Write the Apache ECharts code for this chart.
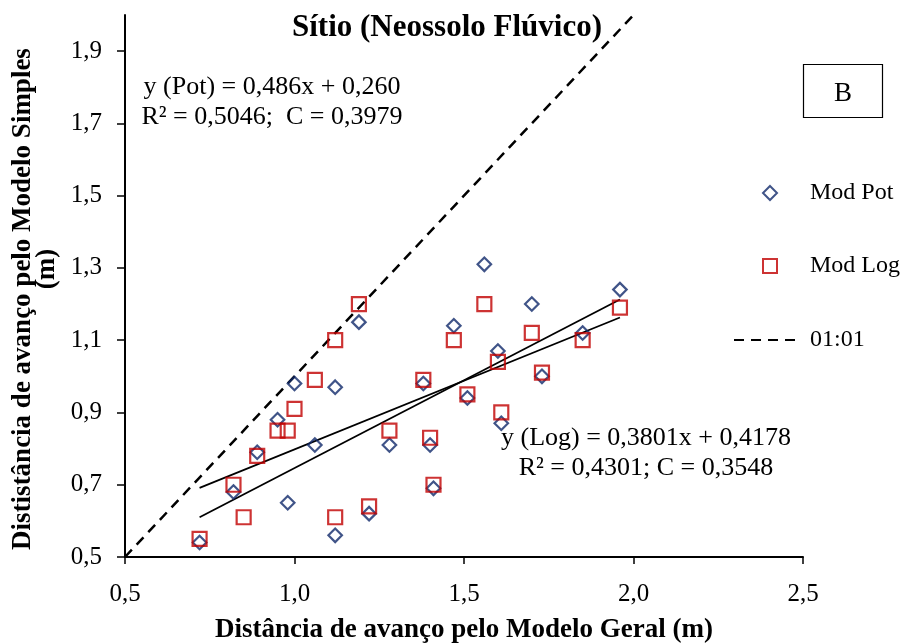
<!DOCTYPE html>
<html>
<head>
<meta charset="utf-8">
<script src="https://cdn.jsdelivr.net/npm/echarts@6/dist/echarts.min.js"></script>
<style>
  html, body { margin: 0; padding: 0; background: #fff; }
  #chart { width: 903px; height: 643px; }
</style>
</head>
<body>
<div id="chart"></div>
<script>
// Distância pelo Modelo Geral (eixo x) e pelos modelos simples (eixo y)
const xGeral = [0.72, 0.82, 0.85, 0.89, 0.95, 0.98, 1.00, 1.06, 1.12, 1.12, 1.19, 1.22, 1.28,
                1.38, 1.40, 1.41, 1.47, 1.51, 1.56, 1.60, 1.61, 1.70, 1.73, 1.85, 1.96];
const modPot = [0.54, 0.68, null, 0.79, 0.88, 0.65, 0.98, 0.81, 0.97, 0.56, 1.15, 0.62, 0.81,
                0.98, 0.81, 0.69, 1.14, 0.94, 1.31, 1.07, 0.87, 1.20, 1.00, 1.12, 1.24];
const modLog = [0.55, 0.70, 0.61, 0.78, 0.85, 0.85, 0.91, 0.99, 1.10, 0.61, 1.20, 0.64, 0.85,
                0.99, 0.83, 0.70, 1.10, 0.95, 1.20, 1.04, 0.90, 1.12, 1.01, 1.10, 1.19];

// Ajustes lineares (coeficientes das equações)
const ajustePot = { a: 0.486, b: 0.260 };
const ajusteLog = { a: 0.3801, b: 0.4178 };

// Eixos
const xTicks = [0.5, 1.0, 1.5, 2.0, 2.5];
const yTicks = [0.5, 0.7, 0.9, 1.1, 1.3, 1.5, 1.7, 1.9];
const yMax = 2.0;
const linha11 = [[0.5, 0.5], [2.5, 2.5]];

const FONT = '"Liberation Serif", "Times New Roman", serif';
const fmt = v => v.toFixed(1).replace('.', ',');

const pares = ys => xGeral.map((x, i) => ys[i] == null ? null : [x, ys[i]]).filter(p => p);
const xMin = Math.min(...xGeral), xMax = Math.max(...xGeral);
const reta = c => [[xMin, c.a * xMin + c.b], [xMax, c.a * xMax + c.b]];

const AZUL = '#10296a';
const VERMELHO = '#c00000';

const chart = echarts.init(document.getElementById('chart'), null, { renderer: 'canvas' });

const texto = (x, y, text, font, extra) => Object.assign({
  type: 'text', x: x, y: y,
  style: { text: text, font: font, fill: '#000', textAlign: 'center', textVerticalAlign: 'middle' }
}, extra || {});

chart.setOption({
  animation: false,
  backgroundColor: '#fff',
  grid: { left: 125, top: 15, right: 100, bottom: 86, containLabel: false, outerBoundsMode: 'none' },
  xAxis: {
    type: 'value',
    min: xTicks[0], max: xTicks[xTicks.length - 1], interval: 0.5,
    axisLine: { show: true, lineStyle: { color: '#000', width: 2 } },
    axisTick: { show: true, inside: false, length: 7, lineStyle: { color: '#000', width: 1.5 } },
    splitLine: { show: false },
    axisLabel: { formatter: fmt, color: '#000', fontFamily: FONT, fontSize: 25, margin: 25 },
    name: 'Distância de avanço pelo Modelo Geral (m)',
    nameLocation: 'middle', nameGap: 60,
    nameTextStyle: { color: '#000', fontFamily: FONT, fontSize: 27, fontWeight: 'bold' }
  },
  yAxis: {
    type: 'value',
    min: yTicks[0], max: yMax, interval: 0.2,
    axisLine: { show: true, lineStyle: { color: '#000', width: 2 } },
    axisTick: { show: true, inside: false, length: 8, lineStyle: { color: '#000', width: 1.5 } },
    splitLine: { show: false },
    axisLabel: {
      color: '#000', fontFamily: FONT, fontSize: 25, margin: 23,
      formatter: v => (Math.abs(v - yMax) < 1e-6 ? '' : fmt(v)),
      showMaxLabel: false
    }
  },
  legend: [
    {
      orient: 'vertical', left: 762, top: 181, padding: 0,
      itemWidth: 14, itemHeight: 14, itemGap: 49,
      data: [{ name: 'Mod Pot', icon: 'diamond' }, { name: 'Mod Log', icon: 'rect' }],
      textStyle: { color: '#000', fontFamily: FONT, fontSize: 24, padding: [0, 0, 0, 28] },
      selectedMode: false
    },
    {
      orient: 'vertical', left: 733, top: 328, padding: 0,
      itemWidth: 66, itemHeight: 13,
      data: ['01:01'],
      textStyle: { color: '#000', fontFamily: FONT, fontSize: 24, padding: [0, 0, 0, 5] },
      selectedMode: false
    }
  ],
  series: [
    {
      name: 'Mod Pot', type: 'scatter', symbol: 'diamond', symbolSize: 13.5,
      itemStyle: { color: 'rgba(0,0,0,0)', borderColor: AZUL, borderWidth: 2.2 },
      data: pares(modPot), z: 3
    },
    {
      name: 'Mod Log', type: 'scatter', symbol: 'rect', symbolSize: 14,
      itemStyle: { color: 'rgba(0,0,0,0)', borderColor: VERMELHO, borderWidth: 2.2 },
      data: pares(modLog), z: 4
    },
    {
      name: '01:01', type: 'line', data: linha11, symbol: 'none', clip: true,
      itemStyle: { color: 'rgba(0,0,0,0)' },
      lineStyle: { color: '#000', width: 2.5, type: [10, 7] }, z: 2
    },
    {
      name: 'Ajuste Pot', type: 'line', data: reta(ajustePot), symbol: 'none',
      lineStyle: { color: '#000', width: 1.8 }, z: 2
    },
    {
      name: 'Ajuste Log', type: 'line', data: reta(ajusteLog), symbol: 'none',
      lineStyle: { color: '#000', width: 1.8 }, z: 2
    }
  ],
  graphic: [
    texto(447, 28, 'Sítio (Neossolo Flúvico)', 'bold 31px ' + FONT),
    texto(272, 87, 'y (Pot) = 0,486x + 0,260', '26px ' + FONT),
    texto(272, 117, 'R² = 0,5046;  C = 0,3979', '26px ' + FONT),
    texto(646, 438, 'y (Log) = 0,3801x + 0,4178', '26px ' + FONT),
    texto(646, 468, 'R² = 0,4301; C = 0,3548', '26px ' + FONT),
    {
      type: 'rect', shape: { x: 803.5, y: 64.5, width: 79, height: 53 },
      style: { fill: '#fff', stroke: '#000', lineWidth: 1.2 }
    },
    texto(843, 94, 'B', '27px ' + FONT),
    texto(23, 299, 'Dististância de avanço pelo Modelo Simples', 'bold 27px ' + FONT,
          { rotation: Math.PI / 2 }),
    texto(47, 269, '(m)', 'bold 27px ' + FONT, { rotation: Math.PI / 2 })
  ]
});
</script>
</body>
</html>
